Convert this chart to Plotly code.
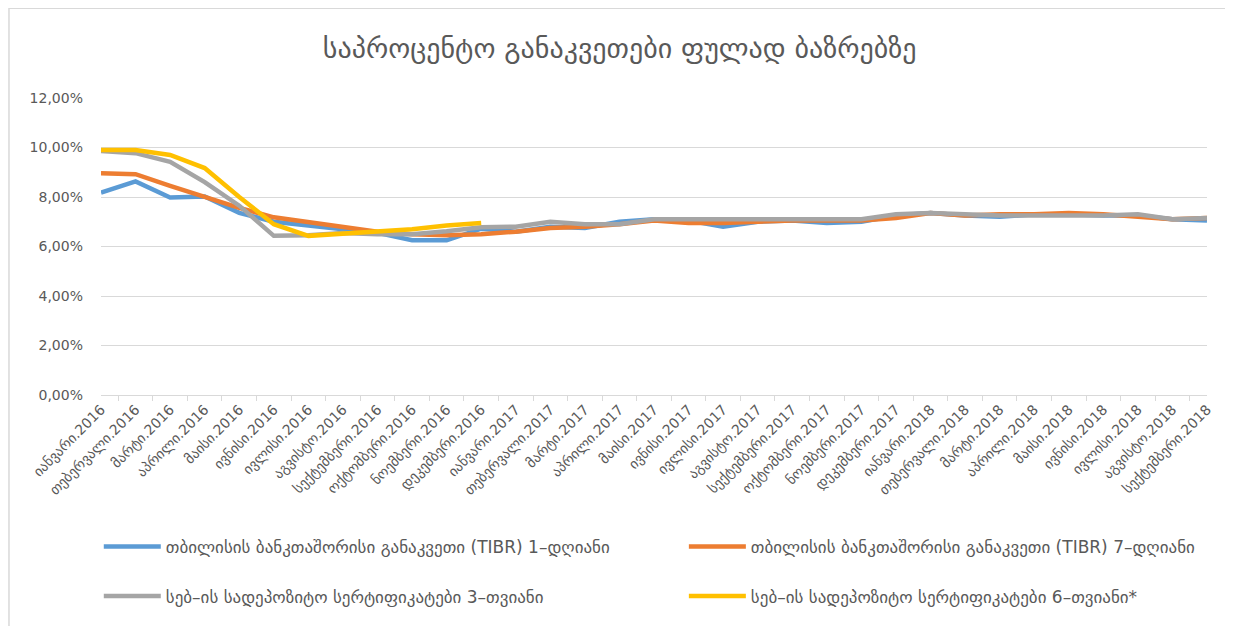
import plotly.graph_objects as go

months = ["იანვარი", "თებერვალი", "მარტი", "აპრილი", "მაისი", "ივნისი",
          "ივლისი", "აგვისტო", "სექტემბერი", "ოქტომბერი", "ნოემბერი", "დეკემბერი"]
categories = ([m + ".2016" for m in months] + [m + ".2017" for m in months]
              + [m + ".2018" for m in months[:9]])

tibr_1d = [8.18, 8.63, 7.98, 8.02, 7.36, 7.0, 6.85, 6.7, 6.55, 6.25, 6.25, 6.72,
           6.6, 6.8, 6.75, 7.0, 7.1, 7.05, 6.8, 7.0, 7.05, 6.95, 7.0, 7.25,
           7.35, 7.25, 7.2, 7.3, 7.3, 7.25, 7.25, 7.1, 7.05]
tibr_7d = [8.96, 8.92, 8.45, 8.02, 7.56, 7.18, 6.98, 6.78, 6.6, 6.5, 6.45, 6.5,
           6.6, 6.75, 6.8, 6.9, 7.05, 6.95, 6.95, 7.0, 7.05, 7.05, 7.05, 7.15,
           7.35, 7.25, 7.3, 7.3, 7.35, 7.3, 7.2, 7.1, 7.15]
cd_3m = [9.86, 9.77, 9.42, 8.6, 7.65, 6.43, 6.45, 6.55, 6.5, 6.5, 6.62, 6.78,
         6.8, 7.0, 6.9, 6.9, 7.1, 7.1, 7.1, 7.1, 7.1, 7.1, 7.1, 7.3,
         7.35, 7.3, 7.25, 7.25, 7.25, 7.25, 7.3, 7.1, 7.15]
cd_6m = [9.9, 9.9, 9.7, 9.17, 8.0, 6.9, 6.43, 6.52, 6.6, 6.7, 6.85, 6.95]

names = ["თბილისის ბანკთაშორისი განაკვეთი (TIBR) 1–დღიანი",
         "თბილისის ბანკთაშორისი განაკვეთი (TIBR) 7–დღიანი",
         "სებ–ის სადეპოზიტო სერტიფიკატები 3–თვიანი",
         "სებ–ის სადეპოზიტო სერტიფიკატები 6–თვიანი*"]
colors = ["#5B9BD5", "#ED7D31", "#A5A5A5", "#FFC000"]
series = [tibr_1d, tibr_7d, cd_3m, cd_6m]
legends = ["legend", "legend2", "legend3", "legend4"]

font_family = "DejaVu Sans, Noto Sans, sans-serif"
text_color = "#595959"

fig = go.Figure()
for name, color, vals, lg in zip(names, colors, series, legends):
    fig.add_trace(go.Scatter(
        x=categories[:len(vals)], y=vals, name=name, mode="lines",
        line=dict(color=color, width=4.5), legend=lg))

legend_common = dict(xanchor="left", yanchor="middle",
                     font=dict(size=17, color=text_color, family=font_family),
                     itemwidth=57, bgcolor="rgba(0,0,0,0)")

legend_x = [-0.002, 0.527, -0.002, 0.527]
legend_y = [-0.512, -0.512, -0.678, -0.678]
legend_layouts = {lg: dict(x=lx, y=ly, **legend_common)
                  for lg, lx, ly in zip(legends, legend_x, legend_y)}

fig.update_layout(
    width=1217, height=618,
    paper_bgcolor="white", plot_bgcolor="white",
    margin=dict(l=93, r=18, t=90, b=227),
    separators=",.",
    font=dict(family=font_family, color=text_color),
    title=dict(text="საპროცენტო განაკვეთები ფულად ბაზრებზე",
               x=0.469, xref="paper", xanchor="center", y=0.935, yanchor="middle",
               font=dict(size=28, color=text_color, family=font_family)),
    showlegend=True,
    xaxis=dict(type="category", categoryorder="array", categoryarray=categories,
               tickangle=-45, tickson="boundaries", ticks="outside", ticklen=5,
               tickcolor="#D9D9D9", showline=True, linecolor="#D9D9D9",
               linewidth=1, showgrid=False,
               tickfont=dict(size=14, color=text_color, family=font_family)),
    yaxis=dict(range=[0, 12], dtick=2, tickformat=".2f", ticksuffix="%",
               showgrid=True, gridcolor="#D9D9D9", gridwidth=1,
               zeroline=False, showline=False, ticks="", ticklabelstandoff=17,
               tickfont=dict(size=14, color=text_color, family=font_family)),
    **legend_layouts,
)

fig.add_shape(type="rect", xref="paper", yref="paper",
              x0=-0.0832, x1=1.1, y0=-1.0, y1=1.302,
              line=dict(color="#D9D9D9", width=1.5), fillcolor="rgba(0,0,0,0)",
              layer="below")

fig.write_html("out.html")
